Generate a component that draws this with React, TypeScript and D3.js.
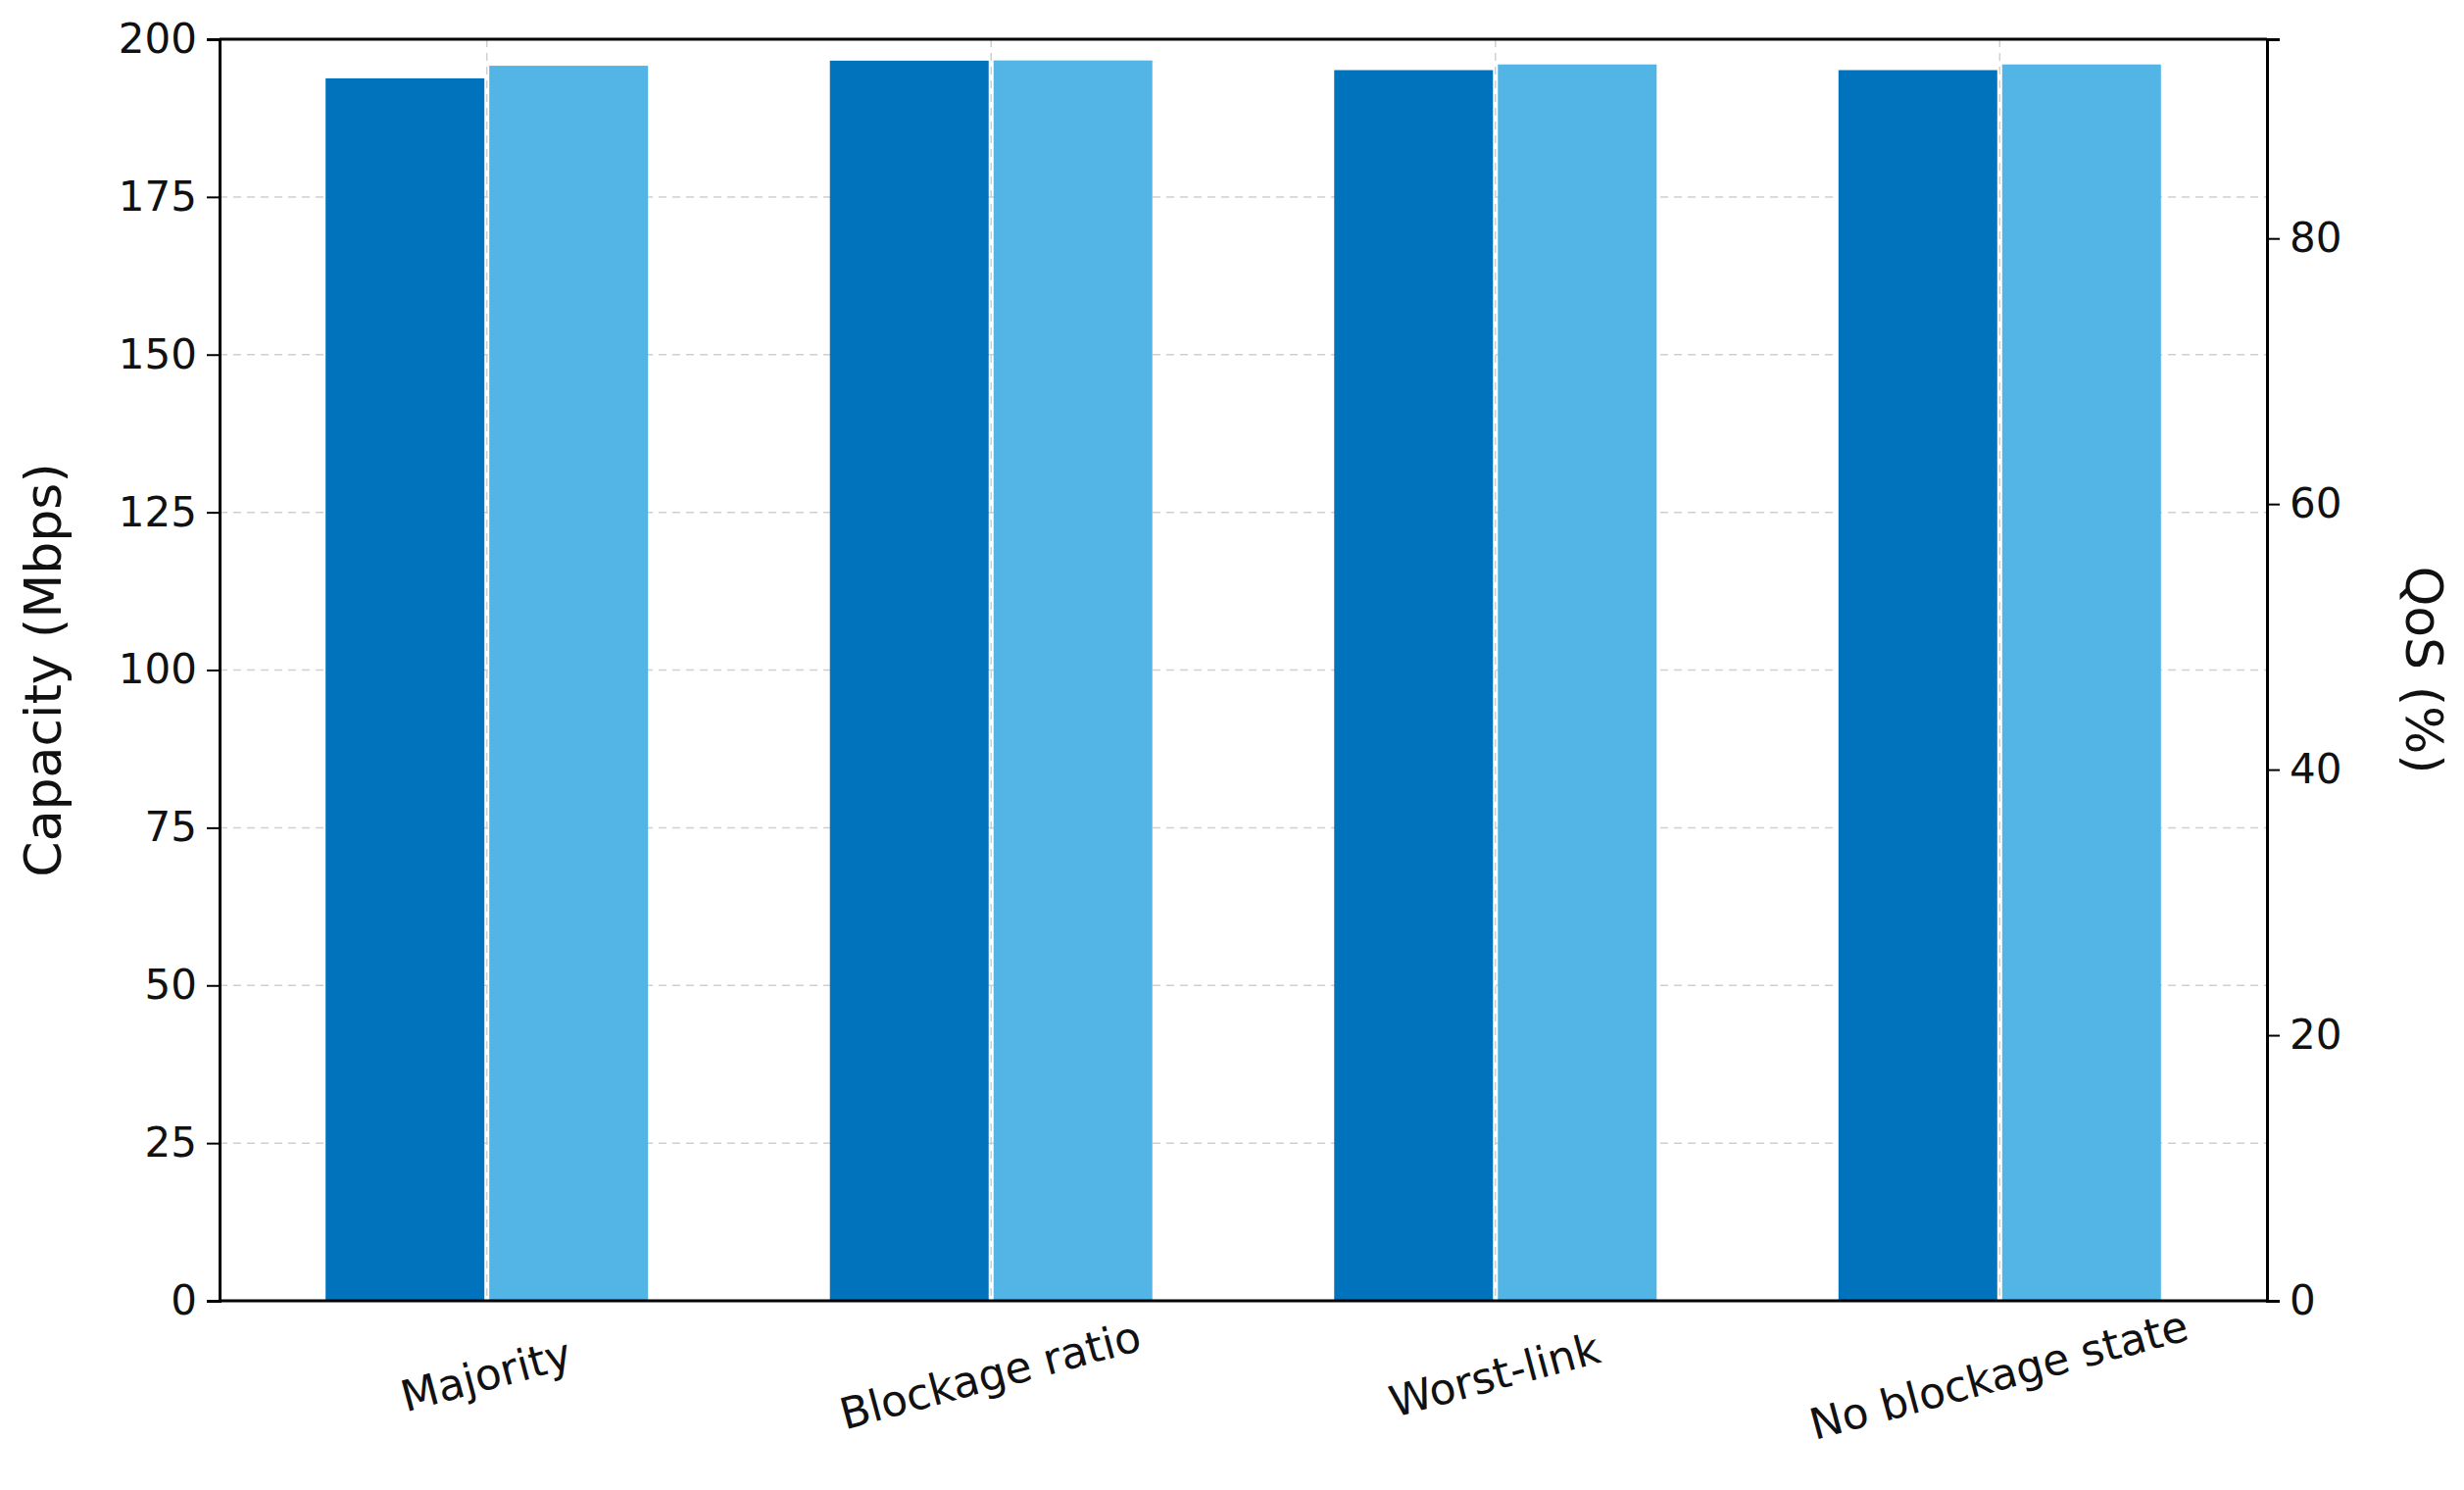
import * as d3 from "d3";
import { useEffect, useRef } from "react";

const categories = ["Majority", "Blockage ratio", "Worst-link", "No blockage state"];
const capacity = [193.8, 196.6, 195.1, 195.1];
const qos = [93.0, 93.4, 93.1, 93.1];
const leftTicks = [0, 25, 50, 75, 100, 125, 150, 175, 200];
const rightTicks = [0, 20, 40, 60, 80];

export default function App() {
  const svgRef = useRef(null);

  useEffect(() => {
    const W = 2514, H = 1520;
    const m = { left: 224, right: 2313, top: 40, bottom: 1327 };
    const svg = d3.select(svgRef.current).attr("width", W).attr("height", H)
      .style("font-family", "'DejaVu Sans', sans-serif");
    svg.selectAll("*").remove();
    svg.append("rect").attr("width", W).attr("height", H).attr("fill", "white");

    const x = d3.scaleBand().domain(categories).range([m.left, m.right]).paddingInner(0).paddingOuter(0.03);
    const yL = d3.scaleLinear().domain([0, 200]).range([m.bottom, m.top]);
    const yR = d3.scaleLinear().domain([0, 95]).range([m.bottom, m.top]);
    const bw = 162;

    // grid
    svg.append("g").selectAll("line").data(leftTicks).join("line")
      .attr("x1", m.left).attr("x2", m.right)
      .attr("y1", (d) => yL(d)).attr("y2", (d) => yL(d))
      .attr("stroke", "#d0d0d0").attr("stroke-width", 1.5).attr("stroke-dasharray", "8,6");
    svg.append("g").selectAll("line").data(categories).join("line")
      .attr("x1", (d) => x(d)! + x.bandwidth() / 2).attr("x2", (d) => x(d)! + x.bandwidth() / 2)
      .attr("y1", m.top).attr("y2", m.bottom)
      .attr("stroke", "#d0d0d0").attr("stroke-width", 1.5).attr("stroke-dasharray", "8,6");

    // bars
    const c = (d: string) => x(d)! + x.bandwidth() / 2;
    svg.append("g").selectAll("rect").data(categories).join("rect")
      .attr("x", (d) => c(d) - bw - 2.5).attr("width", bw)
      .attr("y", (d, i) => yL(capacity[i])).attr("height", (d, i) => m.bottom - yL(capacity[i]))
      .attr("fill", "#0173BD");
    svg.append("g").selectAll("rect").data(categories).join("rect")
      .attr("x", (d) => c(d) + 2.5).attr("width", bw)
      .attr("y", (d, i) => yR(qos[i])).attr("height", (d, i) => m.bottom - yR(qos[i]))
      .attr("fill", "#53B4E6");

    // axes
    const la = svg.append("g").attr("transform", `translate(${m.left},0)`)
      .call(d3.axisLeft(yL).tickValues(leftTicks).tickSize(13).tickPadding(10));
    const ra = svg.append("g").attr("transform", `translate(${m.right},0)`)
      .call(d3.axisRight(yR).tickValues(rightTicks).tickSize(13).tickPadding(10));
    [la, ra].forEach((a) => {
      a.select(".domain").attr("stroke-width", 3);
      a.selectAll(".tick line").attr("stroke-width", 2);
      a.selectAll("text").attr("font-size", 42).attr("font-family", "'DejaVu Sans', sans-serif").attr("fill", "#111");
    });
    svg.append("line").attr("x1", m.left).attr("x2", m.right).attr("y1", m.bottom).attr("y2", m.bottom)
      .attr("stroke", "black").attr("stroke-width", 3);
    svg.append("line").attr("x1", m.left).attr("x2", m.right).attr("y1", m.top).attr("y2", m.top)
      .attr("stroke", "black").attr("stroke-width", 3);

    // category labels
    svg.append("g").selectAll("text").data(categories).join("text")
      .attr("transform", (d) => `translate(${c(d)},${1406}) rotate(-15)`)
      .attr("text-anchor", "middle").attr("dominant-baseline", "middle")
      .attr("font-size", 44).attr("fill", "#111").text((d) => d);

    svg.append("text").attr("transform", `translate(48,${(m.top + m.bottom) / 2}) rotate(-90)`)
      .attr("text-anchor", "middle").attr("dominant-baseline", "middle")
      .attr("font-size", 52).attr("fill", "#111").text("Capacity (Mbps)");
    svg.append("text").attr("transform", `translate(2469,${(m.top + m.bottom) / 2}) rotate(90)`)
      .attr("text-anchor", "middle").attr("dominant-baseline", "middle")
      .attr("font-size", 52).attr("fill", "#111").text("QoS (%)");
  }, []);

  return <svg ref={svgRef} style={{ display: "block", margin: -8 }}></svg>;
}
